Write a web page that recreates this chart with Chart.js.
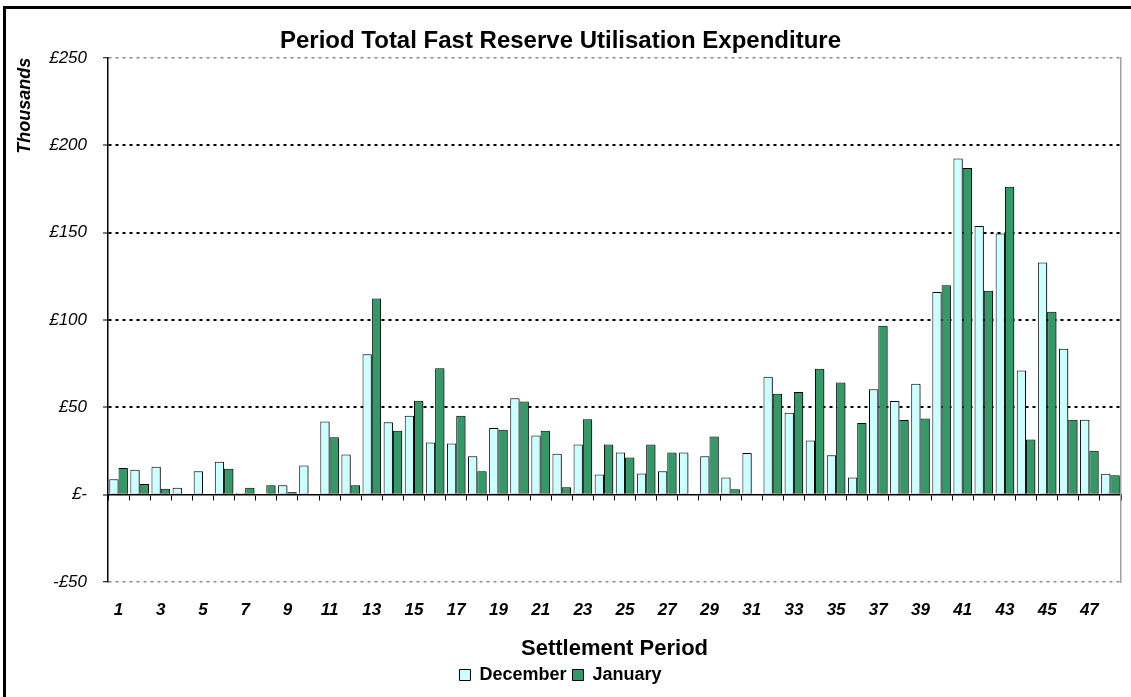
<!DOCTYPE html>
<html>
<head>
<meta charset="utf-8">
<script src="https://cdn.jsdelivr.net/npm/chart.js@4"></script>
<style>
  html, body { margin: 0; padding: 0; background: #ffffff; }
  #wrap { position: relative; width: 1131px; height: 697px; }
</style>
</head>
<body>
<div id="wrap"><canvas id="c" width="1131" height="697"></canvas></div>
<script>
const chartTitle = 'Period Total Fast Reserve Utilisation Expenditure';
const xAxisTitle = 'Settlement Period';
const yAxisTitle = 'Thousands';
const seriesNames = ['December', 'January'];

const periods = ['1','2','3','4','5','6','7','8','9','10','11','12','13','14','15','16',
  '17','18','19','20','21','22','23','24','25','26','27','28','29','30','31','32',
  '33','34','35','36','37','38','39','40','41','42','43','44','45','46','47','48'];

// £ thousands
const december = [8.8, 14.2, 15.9, 4.0, 13.4, 18.8, 1.0, 0, 5.4, 16.7, 41.8, 23.0, 80.3, 41.4, 45.2, 29.9,
  29.3, 22.0, 38.1, 55.2, 33.9, 23.4, 28.7, 11.5, 24.1, 12.1, 13.4, 24.1, 22.0, 9.8, 23.8, 67.4,
  46.9, 31.0, 22.6, 9.8, 60.3, 53.6, 63.4, 115.9, 192.3, 153.8, 149.4, 71.1, 132.8, 83.5, 42.9, 11.9];
const january = [15.3, 6.1, 3.3, 0, 0, 14.8, 4.0, 5.4, 1.5, 0, 32.8, 5.4, 112.3, 36.6, 53.8, 72.4,
  45.2, 13.4, 37.2, 53.3, 36.6, 4.2, 43.1, 28.7, 21.3, 28.7, 24.1, 0, 33.3, 3.1, 0.6, 57.7,
  58.8, 72.0, 64.2, 41.0, 96.7, 42.7, 43.5, 119.9, 187.0, 116.7, 176.2, 31.6, 104.6, 42.9, 25.1, 11.1];

const yMin = -50, yMax = 250, yStep = 50;

const FONT = '"Liberation Sans", Arial, Helvetica, sans-serif';

const frame = {
  id: 'frame',
  beforeDraw(chart) {
    const ctx = chart.ctx;
    ctx.save();
    ctx.fillStyle = '#ffffff';
    ctx.fillRect(0, 0, chart.width, chart.height);
    ctx.strokeStyle = '#000000';
    ctx.lineWidth = 3;
    ctx.beginPath();
    ctx.moveTo(4.5, chart.height);
    ctx.lineTo(4.5, 7.5);
    ctx.lineTo(chart.width, 7.5);
    ctx.stroke();
    ctx.restore();
  }
};

const barShadow = {
  id: 'barShadow',
  beforeDatasetsDraw(chart) {
    const ctx = chart.ctx;
    ctx.save();
    ctx.shadowColor = 'rgba(0,0,0,0.4)';
    ctx.shadowOffsetX = 2;
    ctx.shadowOffsetY = 1;
    ctx.shadowBlur = 0;
  },
  afterDatasetsDraw(chart) {
    chart.ctx.restore();
  }
};

new Chart(document.getElementById('c'), {
  type: 'bar',
  data: {
    labels: periods,
    datasets: [
      { label: seriesNames[0], data: december, backgroundColor: '#CCFFFF', borderColor: '#000000', borderWidth: 1 },
      { label: seriesNames[1], data: january, backgroundColor: '#339966', borderColor: '#000000', borderWidth: 1 }
    ]
  },
  options: {
    responsive: false,
    animation: false,
    events: [],
    layout: { padding: { left: 0, right: 10, top: 0, bottom: 3 } },
    datasets: { bar: { categoryPercentage: 0.88, barPercentage: 1.0 } },
    plugins: {
      title: {
        display: true,
        text: chartTitle,
        color: '#000',
        font: { family: FONT, size: 24, weight: 'bold' },
        padding: { top: 27, bottom: 2 }
      },
      legend: {
        display: true,
        position: 'bottom',
        labels: {
          color: '#000',
          font: { family: FONT, size: 18, weight: 'bold' },
          boxWidth: 11,
          boxHeight: 11,
          padding: 6
        }
      },
      tooltip: { enabled: false }
    },
    scales: {
      x: {
        type: 'category',
        position: { y: 0 },
        offset: true,
        ticks: { display: false },
        grid: { display: true, offset: true, drawOnChartArea: false, drawTicks: true, tickLength: 5, tickColor: '#000', tickWidth: 1, color: '#000' },
        border: { display: true, color: '#000', width: 1.5 }
      },
      x2: {
        type: 'category',
        labels: periods,
        position: 'bottom',
        offset: true,
        grid: { display: false, drawTicks: false },
        border: { display: false },
        ticks: {
          autoSkip: false,
          maxRotation: 0,
          padding: 18,
          color: '#000',
          font: { family: FONT, size: 17, weight: 'bold', style: 'italic' },
          callback: function (v, i) { return i % 2 === 0 ? this.getLabelForValue(v) : ''; }
        },
        title: {
          display: true,
          text: xAxisTitle,
          color: '#000',
          font: { family: FONT, size: 22, weight: 'bold', lineHeight: 1.0 },
          padding: { top: 0, bottom: 0 }
        },
        afterFit(scale) { scale.height = 78; }
      },
      y: {
        type: 'linear',
        position: 'left',
        min: yMin,
        max: yMax,
        ticks: {
          stepSize: yStep,
          padding: 16,
          color: '#000',
          font: { family: FONT, size: 17, style: 'italic' },
          callback: (v) => v === 0 ? '£-' : (v < 0 ? '-£' + Math.abs(v) : '£' + v)
        },
        grid: {
          drawTicks: true,
          tickLength: 5,
          tickColor: '#000',
          tickWidth: 1,
          color: (c) => c.tick && c.tick.value === 0 ? 'rgba(0,0,0,0)' : ((c.tick && (c.tick.value === yMax || c.tick.value === yMin)) ? '#8a8a8a' : '#000'),
          lineWidth: (c) => (c.tick && (c.tick.value === yMax || c.tick.value === yMin)) ? 1.5 : 2
        },
        border: { display: true, color: '#000', width: 1.5, dash: [3, 4] },
        title: {
          display: true,
          text: yAxisTitle,
          align: 'end',
          color: '#000',
          font: { family: FONT, size: 18, weight: 'bold', style: 'italic' },
          padding: { top: 14, bottom: 0 }
        },
        afterFit(scale) { scale.width = 108; }
      },
      yR: {
        type: 'linear',
        position: 'right',
        display: true,
        ticks: { display: false },
        grid: { display: false, drawTicks: false },
        border: { display: true, color: '#a0a0a0', width: 1.5 },
        afterFit(scale) { scale.width = 0; }
      }
    }
  },
  plugins: [frame, barShadow]
});
</script>
</body>
</html>
